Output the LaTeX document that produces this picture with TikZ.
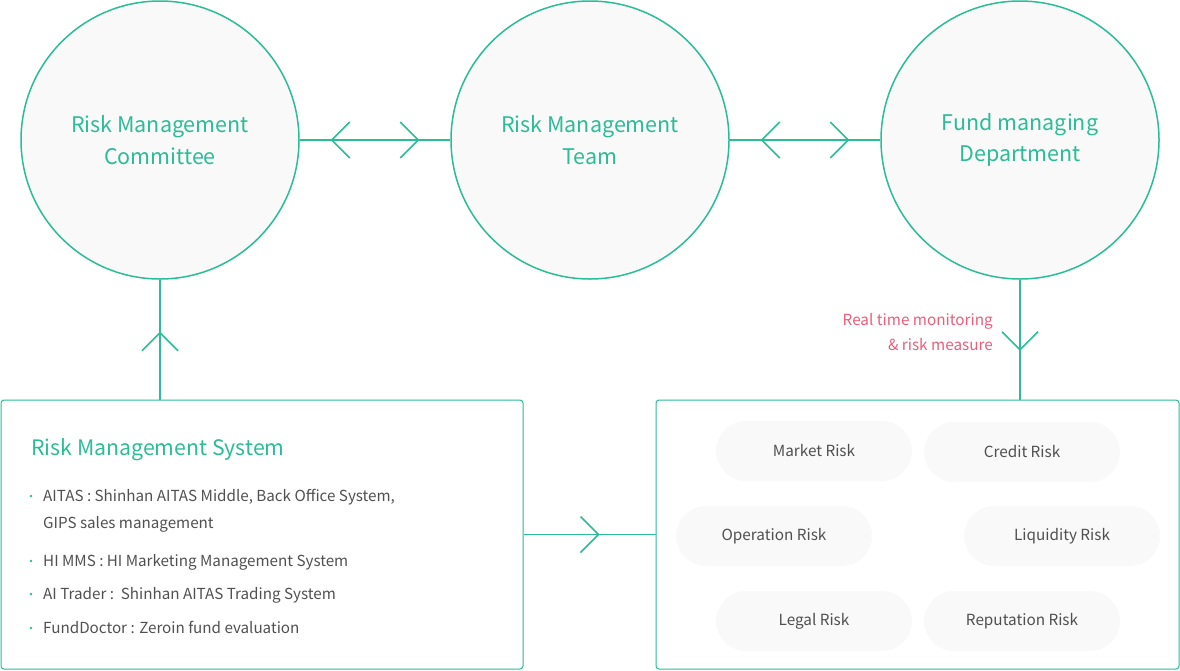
\documentclass[tikz,border=0pt]{standalone}
\usepackage{fontspec}
\setmainfont{Noto Sans CJK KR}
\usetikzlibrary{calc}
\definecolor{rmgreen}{HTML}{2BBC98}
\definecolor{rmpink}{HTML}{EE5C78}
\definecolor{rmgray}{HTML}{505050}
\definecolor{rmfill}{HTML}{F9F9F9}
\tikzset{
  unit/.style={circle,draw=rmgreen,line width=1.5pt,fill=rmfill,minimum size=278pt,inner sep=0pt,text=rmgreen,font=\fontsize{21.5}{31.5}\selectfont,align=center},
  link/.style={draw=rmgreen,line width=1.5pt},
  chev/.style={draw=rmgreen,line width=1.5pt},
  panel/.style={draw=rmgreen,line width=1pt,rounded corners=3pt,minimum height=269pt,inner sep=0pt},
  pill/.style={fill=rmfill,rounded corners=30pt,minimum width=196pt,minimum height=60pt,inner sep=0pt,text=rmgray,font=\fontsize{15.3}{18}\selectfont},
  item/.style={anchor=base west,inner sep=0pt,text=rmgray,font=\fontsize{15.2}{18}\selectfont},
  dot/.style={circle,fill=rmgreen,inner sep=0pt,minimum size=2.6pt}
}
\begin{document}
\begin{tikzpicture}[x=1pt,y=1pt,yscale=-1,xscale=1]
			\useasboundingbox (0,0) rectangle (1180,670);
			
			%Shape: Circle
			\node[unit] (rmc) at (160,140) {Risk Management\\Committee};
			%Shape: Circle
			\node[unit] (rmt) at (590,140) {Risk Management\\Team};
			%Shape: Circle
			\node[unit] (fmd) at (1020,140) {Fund managing\\Department};
			
			%Shape: Rectangle
			\node[panel,minimum width=522pt] (sys) at (262,534.5) {};
			%Shape: Rectangle
			\node[panel,minimum width=523pt] (risk) at (917.5,534.5) {};
			
			%Straight Lines
			\draw[link] (rmc) -- (rmt);
			\draw[link] (rmt) -- (fmd);
			\draw[link] (rmc.south) -- (rmc.south |- sys.north);
			\draw[link] (fmd.south) -- (fmd.south |- risk.north);
			\draw[link] (sys.east) -- (risk.west);
			
			%Chevrons
			\draw[chev] ($(rmc.east)+(50,-18)$) -- ++(-18,18) -- ++(18,18);
			\draw[chev] ($(rmt.west)+(-50,-18)$) -- ++(18,18) -- ++(-18,18);
			\draw[chev] ($(rmt.east)+(50,-18)$) -- ++(-18,18) -- ++(18,18);
			\draw[chev] ($(fmd.west)+(-50,-18)$) -- ++(18,18) -- ++(-18,18);
			\draw[chev] ($(rmc.south)+(-18,71)$) -- ++(18,-18) -- ++(18,18);
			\draw[chev] ($(fmd.south)+(-18,52)$) -- ++(18,18) -- ++(18,-18);
			\draw[chev] ($(sys.east)+(57,-18)$) -- ++(18,18) -- ++(-18,18);
			
			% Text Node
			\node[anchor=east,align=right,inner sep=0pt,text=rmpink,font=\fontsize{15.3}{25}\selectfont] (note) at (993,332) {Real time monitoring\\\& risk measure};
			
			% Text Node
			\node[anchor=base west,inner sep=0pt,text=rmgreen,font=\fontsize{21.3}{26}\selectfont] (title) at (31,455) {Risk Management System};
			% Bullets
			\node[dot] (d1) at (31,496) {};
			\node[dot] (d2) at (31,561) {};
			\node[dot] (d3) at (31,594) {};
			\node[dot] (d4) at (31,628) {};
			% Text Node
			\node[item] (i1) at (43,501) {AITAS : Shinhan AITAS Middle, Back Office System,};
			\node[item] (i1b) at (43,528) {GIPS sales management};
			\node[item] (i2) at (43,566) {HI MMS : HI Marketing Management System};
			\node[item] (i3) at (43,599) {AI Trader :\ \ Shinhan AITAS Trading System};
			\node[item] (i4) at (43,633) {FundDoctor : Zeroin fund evaluation};
			
			%Shape: Pills
			\node[pill] (market) at (814,451) {Market Risk};
			\node[pill] (credit) at (1022,452) {Credit Risk};
			\node[pill] (oper) at (774,536) {Operation Risk};
			\node[pill] (liq) at (1062,536) {Liquidity Risk};
			\node[pill] (legal) at (814,621) {Legal Risk};
			\node[pill] (reput) at (1022,621) {Reputation Risk};
		\end{tikzpicture}
\end{document}
